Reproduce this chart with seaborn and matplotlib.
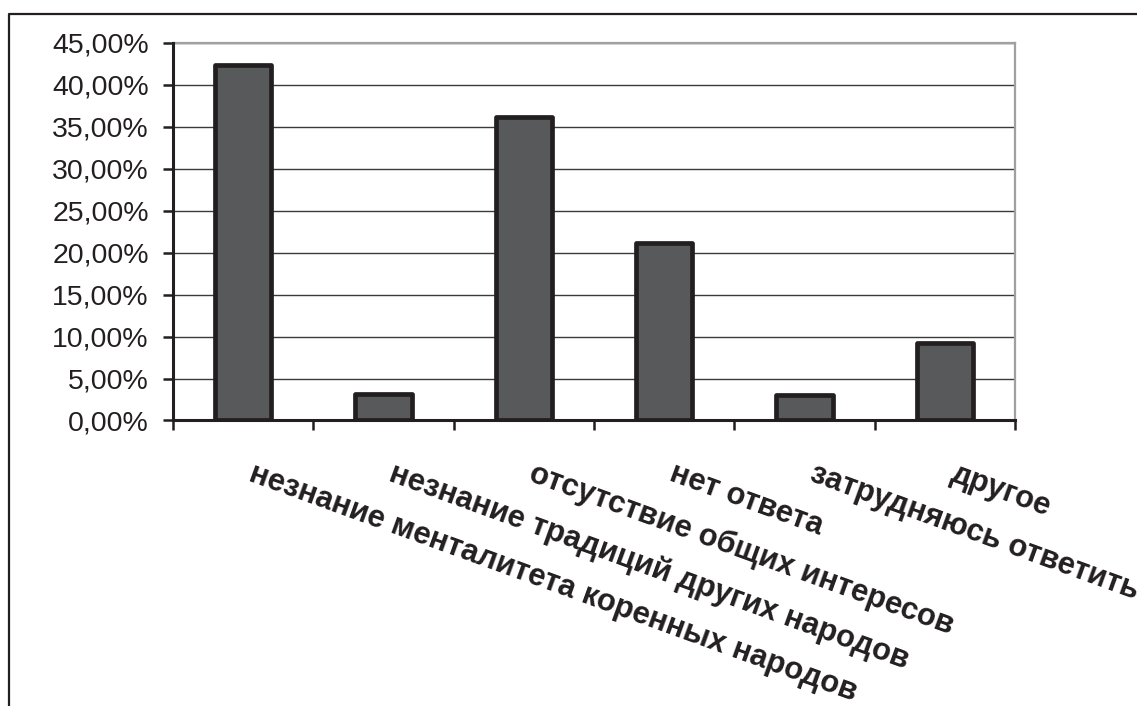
import matplotlib
matplotlib.use("Agg")
import matplotlib.pyplot as plt
import matplotlib.transforms as mtransforms
from matplotlib.lines import Line2D
from matplotlib.ticker import FuncFormatter, MultipleLocator
import seaborn as sns
import pandas as pd

# Survey answers and their shares, in percent
categories = [
    "незнание менталитета коренных народов",
    "незнание традиций других народов",
    "отсутствие общих интересов",
    "нет ответа",
    "затрудняюсь ответить",
    "другое",
]
shares = [42.4, 3.1, 36.2, 21.1, 3.0, 9.2]

sns.set_style("white")
plt.rcParams["font.family"] = ["Liberation Sans", "DejaVu Sans"]

ink = "#231f20"
fill = "#58595b"

fig = plt.figure(figsize=(11.37, 7.06), dpi=100)
ax = fig.add_axes([0.1522, 0.4044, 0.8927 - 0.1522, 0.9395 - 0.4044])

df = pd.DataFrame({"category": categories, "share": shares})
sns.barplot(data=df, x="category", y="share", ax=ax, width=0.4,
            color=fill, saturation=1, edgecolor=ink, linewidth=3.4, zorder=3)
for p in ax.patches:
    p.set_joinstyle("round")
    p.set_facecolor(fill)

ax.set_xlim(-0.5, len(categories) - 0.5)
ax.set_ylim(0, 45)
ax.set_xlabel("")
ax.set_ylabel("")

# y axis: percentage ticks with comma decimals
ax.yaxis.set_major_locator(MultipleLocator(5))
ax.yaxis.set_major_formatter(FuncFormatter(lambda v, _: f"{v:.2f}".replace(".", ",") + "%"))
ax.tick_params(axis="y", which="major", direction="out", length=7.5, width=1.8,
               color=ink, labelsize=20.5, labelcolor=ink, pad=10, left=True)
ax.grid(axis="y", color="#3a3a3a", linewidth=1.0, zorder=0)
ax.set_axisbelow(True)

# x axis: tick marks on category boundaries, labels at category centres
ax.set_xticks(range(len(categories)))
ax.set_xticks([i - 0.5 for i in range(len(categories) + 1)], minor=True)
ax.tick_params(axis="x", which="major", length=0, pad=27.5, labelsize=22.3,
               labelcolor=ink, bottom=True)
ax.tick_params(axis="x", which="minor", direction="out", length=7.5, width=1.8,
               color=ink, bottom=True)
shift = mtransforms.ScaledTranslation(0.12, 0, fig.dpi_scale_trans)
for lab in ax.get_xticklabels():
    lab.set_rotation(-20)
    lab.set_rotation_mode("anchor")
    lab.set_ha("left")
    lab.set_va("top")
    lab.set_fontweight("bold")
    lab.set_transform(lab.get_transform() + shift)

for side in ("left", "bottom"):
    ax.spines[side].set_color(ink)
    ax.spines[side].set_linewidth(2.2)
    ax.spines[side].set_zorder(4)
for side in ("top", "right"):
    ax.spines[side].set_color("#a0a0a0")
    ax.spines[side].set_linewidth(1.6)

# outer chart frame
W, H = 1137, 706
fig.add_artist(Line2D([9 / W, 9 / W, 1.0], [0.0, 1 - 14 / H, 1 - 14 / H],
                      transform=fig.transFigure, color=ink, linewidth=1.6))

fig.savefig("out.png", dpi=100)
